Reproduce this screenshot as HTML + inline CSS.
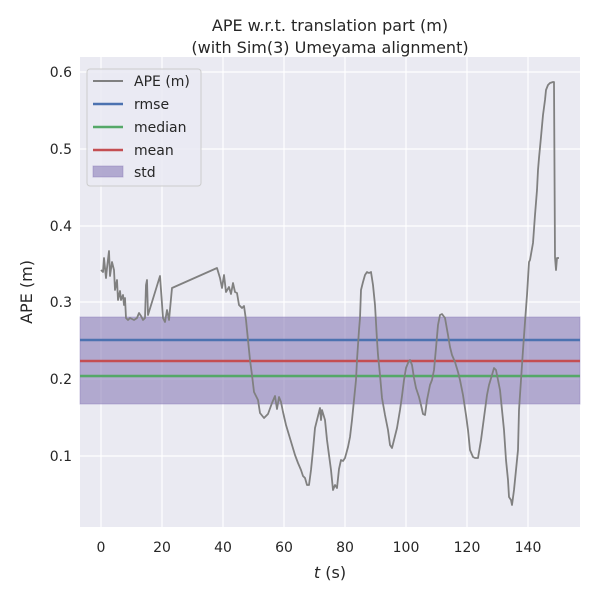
<!DOCTYPE html>
<html><head><meta charset="utf-8"><style>body{margin:0;background:#fff}svg{display:block}</style></head>
<body>
<svg width="600" height="600" xmlns="http://www.w3.org/2000/svg" font-family="DejaVu Sans, Liberation Sans, sans-serif">
<rect width="600" height="600" fill="#fff"/>
<rect x="80" y="57" width="500" height="470" fill="#eaeaf2"/>
<g stroke="#fff" stroke-width="1.2">
<line x1="101" y1="57" x2="101" y2="527"/><line x1="162" y1="57" x2="162" y2="527"/><line x1="223" y1="57" x2="223" y2="527"/><line x1="284" y1="57" x2="284" y2="527"/><line x1="345" y1="57" x2="345" y2="527"/><line x1="406" y1="57" x2="406" y2="527"/><line x1="467" y1="57" x2="467" y2="527"/><line x1="528" y1="57" x2="528" y2="527"/>
<line x1="80" y1="72" x2="580" y2="72"/><line x1="80" y1="149" x2="580" y2="149"/><line x1="80" y1="226" x2="580" y2="226"/><line x1="80" y1="302" x2="580" y2="302"/><line x1="80" y1="379" x2="580" y2="379"/><line x1="80" y1="456" x2="580" y2="456"/>
</g>
<rect x="80" y="317" width="500" height="87" fill="#8172b3" fill-opacity="0.55" stroke="#8172b3" stroke-opacity="0.4"/>
<line x1="80" y1="340" x2="580" y2="340" stroke="#4c72b0" stroke-width="2.5"/>
<line x1="80" y1="361" x2="580" y2="361" stroke="#c44e52" stroke-width="2.5"/>
<line x1="80" y1="376" x2="580" y2="376" stroke="#55a868" stroke-width="2.5"/>
<polyline fill="none" stroke="#808080" stroke-width="1.8" stroke-linejoin="round" points="101,270 103,272 104,258 106,278 107,268 109,251 110,276 112,262 114,270 115,290 117,280 118,300 120,291 121,300 123,295 124,305 125,298 126,318 128,320 130,318 134,320 137,318 139,313 141,316 143,320 145,318 146,285 147,280 148,315 160,276 163,318 165,322 167,310 169,320 172,288 217,268 220,278 222,288 224,275 226,292 229,287 231,294 233,283 235,292 237,293 239,305 242,308 244,306 246,320 248,340 250,360 252,375 254,392 258,400 260,413 264,418 268,414 272,403 275,396 277,409 279,397 281,402 283,412 286,425 289,435 292,445 295,455 298,463 301,470 303,476 305,478 307,485 309,485 311,470 313,450 315,428 317,420 320,408 321,420 322,410 325,420 327,440 329,455 331,470 333,490 335,485 337,488 339,469 341,460 343,461 345,458 348,447 350,437 352,420 354,400 356,380 357,360 359,330 360,318 361,290 363,282 365,275 367,272 369,273 371,272 373,285 375,305 377,340 378,355 380,375 382,398 385,415 388,430 390,445 392,448 394,440 397,428 400,410 402,396 404,380 406,368 408,363 410,360 412,365 414,378 416,388 419,397 421,405 423,414 425,415 427,400 430,385 432,380 434,370 436,348 438,325 440,315 442,314 445,318 448,335 450,347 452,355 455,362 458,372 460,380 463,395 466,415 468,430 470,450 473,457 475,458 478,458 481,440 483,425 485,410 487,395 489,385 492,375 494,368 496,370 498,380 500,390 502,410 504,430 506,460 508,480 509,497 511,500 512,505 514,490 516,470 518,450 519,410 521,380 523,350 525,322 527,295 529,262 530,260 533,243 535,215 537,190 538,170 539,158 541,137 543,115 545,100 546,90 548,85 550,83 553,82 554,82 555,257 556,270 557,258 559,258"/>
<g font-size="14" fill="#262626" text-anchor="middle">
<text x="101" y="552">0</text><text x="162" y="552">20</text><text x="223" y="552">40</text><text x="284" y="552">60</text><text x="345" y="552">80</text><text x="406" y="552">100</text><text x="467" y="552">120</text><text x="528" y="552">140</text>
</g>
<g font-size="14" fill="#262626" text-anchor="end">
<text x="72" y="77">0.6</text><text x="72" y="154">0.5</text><text x="72" y="231">0.4</text><text x="72" y="307">0.3</text><text x="72" y="384">0.2</text><text x="72" y="461">0.1</text>
</g>
<text x="330" y="578" font-size="16" fill="#262626" text-anchor="middle"><tspan font-style="italic">t</tspan> (s)</text>
<text transform="translate(32,292) rotate(-90)" font-size="16" fill="#262626" text-anchor="middle">APE (m)</text>
<text x="330" y="31" font-size="16" fill="#262626" text-anchor="middle">APE w.r.t. translation part (m)</text>
<text x="330" y="53" font-size="16" fill="#262626" text-anchor="middle">(with Sim(3) Umeyama alignment)</text>
<rect x="87" y="69" width="114" height="117" rx="3" fill="#eaeaf2" fill-opacity="0.8" stroke="#cccccc"/>
<line x1="93" y1="81" x2="123" y2="81" stroke="#808080" stroke-width="2"/>
<line x1="93" y1="104" x2="123" y2="104" stroke="#4c72b0" stroke-width="2.5"/>
<line x1="93" y1="127" x2="123" y2="127" stroke="#55a868" stroke-width="2.5"/>
<line x1="93" y1="150" x2="123" y2="150" stroke="#c44e52" stroke-width="2.5"/>
<rect x="93" y="166" width="30" height="11" fill="#8172b3" fill-opacity="0.55" stroke="#8172b3" stroke-opacity="0.4"/>
<g font-size="14" fill="#262626">
<text x="134" y="86">APE (m)</text><text x="134" y="109">rmse</text><text x="134" y="132">median</text><text x="134" y="155">mean</text><text x="134" y="177">std</text>
</g>
</svg>
</body></html>
